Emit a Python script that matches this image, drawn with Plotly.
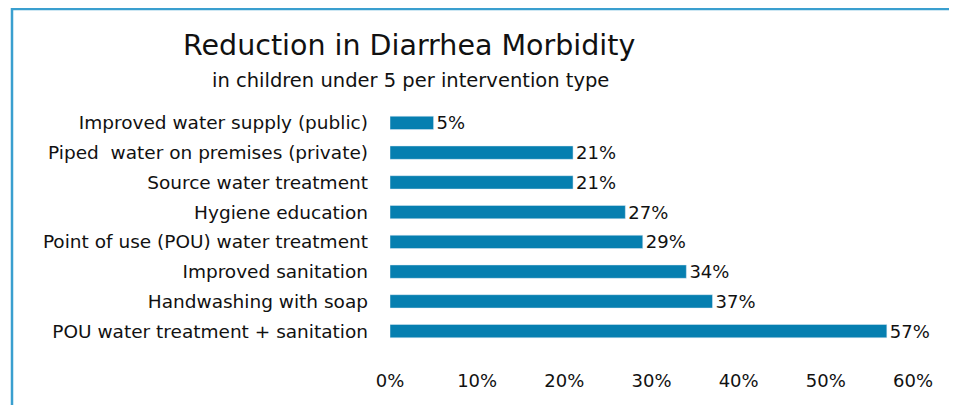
import plotly.graph_objects as go

categories = [
    "Improved water supply (public)",
    "Piped  water on premises (private)",
    "Source water treatment",
    "Hygiene education",
    "Point of use (POU) water treatment",
    "Improved sanitation",
    "Handwashing with soap",
    "POU water treatment + sanitation",
]
values = [5, 21, 21, 27, 29, 34, 37, 57]
tick_vals = [0, 10, 20, 30, 40, 50, 60]
tick_text = ["0%", "10%", "20%", "30%", "40%", "50%", "60%"]

FONT = "DejaVu Sans"
BAR = "#067fb0"
OFF = 8  # page body margin

fig = go.Figure(go.Bar(
    y=categories, x=values, orientation="h",
    marker=dict(color=BAR),
    text=[f"{v}%" for v in values], textposition="outside",
    textfont=dict(family=FONT, size=18, color="#111"),
    cliponaxis=False, constraintext="none",
))

W, H = 957 - OFF, 405 - OFF
L, T = 390 - OFF, 108 - OFF
R = W - (913 - OFF)
B = H - (346 - OFF)
pw, ph = W - L - R, H - T - B

def px(x):
    return (x - OFF - L) / pw

def py(y):
    return (H - B - (y - OFF)) / ph

fig.update_layout(
    width=W, height=H,
    margin=dict(l=L, r=R, t=T, b=B),
    paper_bgcolor="white", plot_bgcolor="white",
    bargap=0.55,
    showlegend=False,
    font=dict(family=FONT, color="#111"),
    xaxis=dict(range=[0, 60], tickvals=tick_vals, ticktext=tick_text,
               showgrid=False, zeroline=False, showline=False,
               tickfont=dict(size=18, family=FONT), ticklabelstandoff=22,
               fixedrange=True),
    yaxis=dict(autorange="reversed", showgrid=False, zeroline=False, showline=False,
               tickfont=dict(size=18.5, family=FONT), ticklabelstandoff=21,
               fixedrange=True),
    annotations=[
        dict(text="Reduction in Diarrhea Morbidity", x=px(409), y=py(45),
             xref="paper", yref="paper", showarrow=False,
             font=dict(size=28.5, family=FONT, color="#111"), xanchor="center", yanchor="middle"),
        dict(text="in children under 5 per intervention type", x=px(410), y=py(80),
             xref="paper", yref="paper", showarrow=False,
             font=dict(size=19.5, family=FONT, color="#111"), xanchor="center", yanchor="middle"),
    ],
    shapes=[
        dict(type="rect", xref="paper", yref="paper",
             x0=px(12), x1=px(951), y0=py(430), y1=py(9),
             line=dict(color="#3a9fcf", width=2.5), fillcolor="rgba(0,0,0,0)", layer="below"),
    ],
)

fig.write_html("out.html")
